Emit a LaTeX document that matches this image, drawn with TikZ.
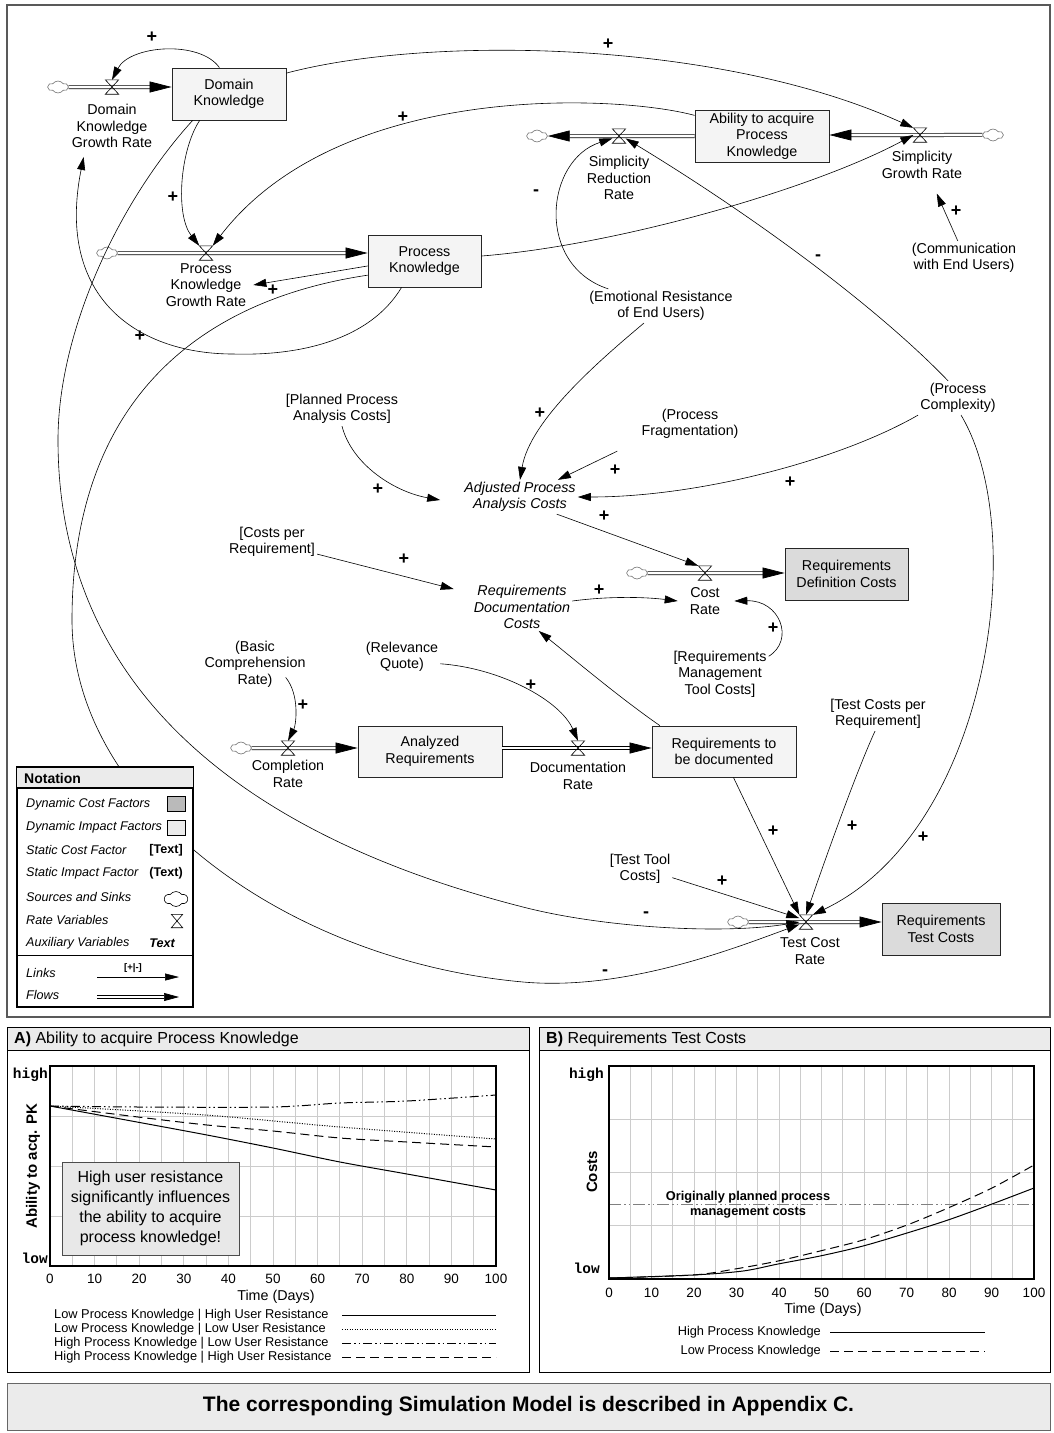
\documentclass[tikz,border=0pt]{standalone}
\usepackage{fontspec}
\setmainfont{Liberation Sans}
\setmonofont{Liberation Mono}
\usetikzlibrary{arrows.meta,shapes.symbols}
\definecolor{framec}{gray}{0.35}
\definecolor{impact}{gray}{0.955}
\definecolor{costfill}{gray}{0.86}
\definecolor{headfill}{gray}{0.92}
\definecolor{gridc}{gray}{0.8}
\tikzset{
  txt/.style={font=\fontsize{14.3}{16.5}\selectfont, align=center, inner sep=2pt},
  auxit/.style={txt, font=\fontsize{14.3}{16.5}\selectfont\itshape},
  level/.style={txt, draw=black!85, fill=impact, minimum height=52pt, line width=.8pt},
  costlevel/.style={level, fill=costfill},
  valve/.style={minimum width=13pt, minimum height=14pt, inner sep=0pt},
  cloudy/.style={cloud, cloud puffs=6, cloud puff arc=110, cloud ignores aspect, draw=black!55, fill=white, minimum width=20pt, minimum height=12pt, inner sep=0pt, line width=.6pt},
  link/.style={line width=.6pt, -{Triangle[length=13pt,width=8pt]}},
  flow/.style={draw, line width=.7pt, double=white, double distance=2.6pt, -{Triangle[length=22pt,width=11pt]}},
  pol/.style={font=\fontsize{18}{18}\bfseries\selectfont, inner sep=0pt},
  legtext/.style={anchor=west, font=\fontsize{12.6}{14}\selectfont\itshape, inner sep=0pt},
  chartleg/.style={font=\fontsize{12.8}{14}\selectfont, inner sep=0pt},
  tick/.style={font=\fontsize{13.5}{14}\selectfont, inner sep=0pt},
  yval/.style={anchor=east, font=\fontsize{14.5}{15}\ttfamily\bfseries\selectfont, inner sep=0pt}
}
\begin{document}
\begin{tikzpicture}[x=1pt, y=-1pt]
\useasboundingbox (0,0) rectangle (1053,1433);
\draw[framec, line width=1.2pt] (7,5) rectangle (1050,1017);

\node[level, minimum width=114pt] (dk) at (229,94) {Domain\\Knowledge};
\node[level, minimum width=113pt] (pk) at (424.5,261) {Process\\Knowledge};
\node[level, minimum width=134pt] (ab) at (762,136) {Ability to acquire\\Process\\Knowledge};
\node[level, minimum width=144pt, minimum height=51pt] (ar) at (430,751.5) {Analyzed\\Requirements};
\node[level, minimum width=144pt, minimum height=51pt] (rd) at (724,751.5) {Requirements to\\be documented};
\node[costlevel, minimum width=123pt] (rdc) at (846.5,574) {Requirements\\Definition Costs};
\node[costlevel, minimum width=118pt] (rtc) at (941,929) {Requirements\\Test Costs};

\node[valve] (vdk) at (112,87) {};
\node[valve] (vpk) at (206,253) {};
\node[valve] (vsr) at (619,136) {};
\node[valve] (vsg) at (920,135) {};
\node[valve] (vcr) at (705,573) {};
\node[valve] (vcm) at (288,748) {};
\node[valve] (vdo) at (578,748) {};
\node[valve] (vtc) at (806,922) {};

\node[cloudy] (cdk) at (58,87) {};
\node[cloudy] (cpk) at (107,253) {};
\node[cloudy] (csr) at (537,136) {};
\node[cloudy] (csg) at (993,135) {};
\node[cloudy] (ccr) at (637,573) {};
\node[cloudy] (ccm) at (241,748) {};
\node[cloudy] (ctc) at (738,922) {};

\draw[flow] (cdk) -- (vdk.center) -- (vdk -| dk.west);
\draw[flow] (cpk) -- (vpk.center) -- (vpk -| pk.west);
\draw[flow] (vsr -| ab.west) -- (vsr.center) -- (csr);
\draw[flow] (csg) -- (vsg.center) -- (vsg -| ab.east);
\draw[flow] (ccr) -- (vcr.center) -- (vcr -| rdc.west);
\draw[flow] (ccm) -- (vcm.center) -- (vcm -| ar.west);
\draw[flow] (vdo -| ar.east) -- (vdo.center) -- (vdo -| rd.west);
\draw[flow] (ctc) -- (vtc.center) -- (vtc -| rtc.west);

\node[txt] (dkgr) at (112,126) {Domain\\Knowledge\\Growth Rate};
\node[txt] (pkgr) at (206,285) {Process\\Knowledge\\Growth Rate};
\node[txt] (srr) at (619,178) {Simplicity\\Reduction\\Rate};
\node[txt] (sgr) at (922,165) {Simplicity\\Growth Rate};
\node[txt] (crl) at (705,601) {Cost\\Rate};
\node[txt] (cml) at (288,774) {Completion\\Rate};
\node[txt] (dol) at (578,776) {Documentation\\Rate};
\node[txt] (tcl) at (810,951) {Test Cost\\Rate};

\node[txt] (plan) at (342,409) {[Planned Process\\Analysis Costs]};
\node[auxit] (apac) at (520,497) {Adjusted Process\\Analysis Costs};
\node[txt] (frag) at (690,424) {(Process\\Fragmentation)};
\node[txt] (emo) at (661,306) {(Emotional Resistance\\of End Users)};
\node[txt] (com) at (964,258) {(Communication\\with End Users)};
\node[txt] (cplx) at (958,398) {(Process\\Complexity)};
\node[txt] (cpr) at (272,542) {[Costs per\\Requirement]};
\node[auxit] (rdoc) at (522,607) {Requirements\\Documentation\\Costs};
\node[txt] (rmtc) at (720,674) {[Requirements\\Management\\Tool Costs]};
\node[txt] (basic) at (255,664) {(Basic\\Comprehension\\Rate)};
\node[txt] (relq) at (402,657) {(Relevance\\Quote)};
\node[txt] (tcpr) at (878,714) {[Test Costs per\\Requirement]};
\node[txt] (ttc) at (640,869) {[Test Tool\\Costs]};

\foreach \v in {vdk,vpk,vsr,vsg,vcr,vcm,vdo,vtc}
  \draw[line width=.6pt] (\v.north west) -- (\v.south east) -- (\v.south west) -- (\v.north east) -- cycle;

\draw[link] (dk.110) .. controls (200,40) and (130,45) .. (vdk.north);
\draw[link] (dk.20) .. controls (430,35) and (720,40) .. (vsg.north west);
\draw[link] (dk.222) .. controls (180,150) and (175,215) .. (vpk.north west);
\draw[link] (dk.216) .. controls (120,200) and (58,330) .. (58,440)
  .. controls (58,700) and (260,840) .. (523,907)
  .. controls (600,927) and (720,935) .. (vtc.west);
\draw[link] (pk.185) -- ([xshift=5pt]pkgr.east);
\draw[link] (pk.229) .. controls (370,340) and (300,356) .. (233,354)
  .. controls (140,354) and (55,300) .. ([shift={(14,7)}]dkgr.south west);
\draw[link] (pk.5) .. controls (620,245) and (815,188) .. (vsg.west);
\draw[link] (pk.194) .. controls (200,300) and (72,400) .. (72,620)
  .. controls (72,800) and (280,960) .. (523,982)
  .. controls (623,991) and (730,950) .. (vtc.200);
\draw[link] (ab.163) .. controls (620,95) and (340,80) .. (vpk.north east);
\draw[link, shorten >=14pt] (com.110) -- (sgr.-60);
\draw[link] (emo.162) .. controls (535,265) and (545,160) .. (vsr.200);
\draw[link] (cplx.120) .. controls (880,310) and (760,220) .. (vsr.-20);
\draw[link] (emo.225) .. controls (600,360) and (530,420) .. (apac.north);
\draw[link] (plan.south) .. controls (352,465) and (395,492) .. ([shift={(-22,3)}]apac.west);
\draw[link] ([shift={(-22,10)}]frag.south west) -- ([xshift=-20pt]apac.north east);
\draw[link] (cplx.south west) .. controls (840,460) and (700,497) .. (apac.east);
\draw[link] (apac.-25) -- (vcr.north west);
\draw[link] (cpr.-15) -- ([shift={(-18,6)}]rdoc.north west);
\draw[link] ([yshift=6pt]rdoc.east) .. controls (610,596) and (645,597) .. ([xshift=-10pt]crl.west);
\draw[link] (rmtc.20) .. controls (795,640) and (780,600) .. ([xshift=12pt]crl.east);
\draw[link] (rd.158) .. controls (620,698) and (575,660) .. (rdoc.-55);
\draw[link] ([shift={(-22,-12)}]basic.south east) .. controls (300,695) and (296,725) .. (vcm.north);
\draw[link] (relq.-10) .. controls (500,668) and (560,700) .. (vdo.north);
\draw[link] (rd.-70) -- (vtc.north west);
\draw[link] (tcpr.-100) .. controls (855,775) and (825,860) .. (vtc.north);
\draw[link] (cplx.-80) .. controls (1030,530) and (990,830) .. (vtc.north east);
\draw[link] (ttc.-15) -- (vtc.150);

\foreach \x/\y/\s [count=\i] in {152/37/+, 608/44/+, 403/117/+, 173/197/+, 273/290/+, 140/336/+,
    536/193/-, 818/258/-, 956/211/+, 540/413/+, 378/489/+, 615/470/+, 790/482/+, 604/516/+,
    404/559/+, 599/590/+, 773/628/+, 303/705/+, 531/685/+, 773/831/+, 852/826/+, 923/837/+,
    722/881/+, 646/915/-, 605/973/-}
  \node[pol] (sign\i) at (\x,\y) {\s};

\draw[line width=1.2pt, fill=white] (17,767) rectangle (193,1007);
\fill[headfill] (17,767) rectangle (193,788);
\draw[line width=1.5pt] (17,767) -- (193,767) (17,788) -- (193,788);
\draw (17,955) -- (193,955);
\node[anchor=west, font=\fontsize{14}{14}\bfseries\selectfont, inner sep=0pt] (nhead) at (24,778) {Notation};
\foreach \t/\y [count=\i] in {Dynamic Cost Factors/804, Dynamic Impact Factors/827, Static Cost Factor/850,
    Static Impact Factor/873, Sources and Sinks/897, Rate Variables/920, Auxiliary Variables/943,
    Links/973, Flows/995}
  \node[legtext] (leg\i) at (26,\y) {\t};
\node[draw, fill=black!27, minimum width=18pt, minimum height=15pt, inner sep=0pt] (kcost) at (176,804) {};
\node[draw, fill=black!8, minimum width=18pt, minimum height=15pt, inner sep=0pt] (kimp) at (176,827.5) {};
\node[anchor=east, font=\fontsize{12.6}{14}\bfseries\selectfont, inner sep=0pt] (kscf) at (183,850) {[Text]};
\node[anchor=east, font=\fontsize{12.6}{14}\bfseries\selectfont, inner sep=0pt] (ksif) at (183,873) {(Text)};
\node[cloudy, draw=black, minimum width=23pt, minimum height=15pt] (kcloud) at (176,899) {};
\node[valve, minimum width=11pt, minimum height=13pt] (kvalve) at (177,921) {};
\draw[line width=.6pt] (kvalve.north west) -- (kvalve.south east) -- (kvalve.south west) -- (kvalve.north east) -- cycle;
\node[font=\fontsize{12.6}{14}\bfseries\itshape\selectfont, inner sep=0pt] (kaux) at (162,943) {Text};
\coordinate (klinka) at (97,977);
\coordinate (klinkb) at (179,977);
\draw[line width=.6pt, -{Triangle[length=14pt,width=7pt]}] (klinka) -- (klinkb);
\node[font=\fontsize{9.5}{10}\bfseries\selectfont, inner sep=0pt] (ksign) at (133,968) {[+|-]};
\coordinate (kflowa) at (97,997);
\coordinate (kflowb) at (179,997);
\draw[flow, double distance=2pt, -{Triangle[length=15pt,width=8pt]}] (kflowa) -- (kflowb);

\draw[line width=1pt] (7,1027) rectangle (529,1372);
\draw[fill=headfill] (7,1027) rectangle (529,1050);
\node[anchor=west, font=\fontsize{16}{16}\selectfont, inner sep=0pt] (atitle) at (14,1039) {\textbf{A)} Ability to acquire Process Knowledge};
\foreach \i in {1,...,19}
  \draw[gridc, line width=1pt] ({50+22.3*\i},1066) -- ++(0,200);
\foreach \j in {1,2,3}
  \draw[gridc, line width=1pt] (50,{1066+50*\j}) -- ++(446,0);
\draw[line width=1pt] plot[smooth] coordinates {(50,1106) (137,1122) (207,1135) (273,1148) (340,1162) (407,1174) (496,1190)};
\draw[line width=1pt, dash pattern=on 1pt off 1.5pt] plot[smooth] coordinates {(50,1106) (205,1115) (340,1127) (496,1139)};
\draw[line width=1pt, dash pattern=on 9pt off 3pt on 1.5pt off 3pt on 1.5pt off 3pt] plot[smooth] coordinates {(50,1106) (140,1107) (273,1107) (340,1103) (407,1101) (496,1095)};
\draw[line width=1pt, dash pattern=on 9pt off 5pt] plot[smooth] coordinates {(50,1106) (138,1117) (207,1125) (273,1131) (340,1138) (407,1142) (496,1147)};
\draw[line width=1.6pt] (50,1066) rectangle (496,1266);
\node[yval] (ahigh) at (48,1075) {high};
\node[yval] (alow) at (48,1258) {low};
\foreach \t in {0,10,...,100}
  \node[tick] (at\t) at ({50+4.46*\t},1279) {\t};
\node[font=\fontsize{14.3}{15}\selectfont, inner sep=0pt] (atime) at (276,1297) {Time (Days)};
\node[rotate=90, font=\fontsize{15}{15}\bfseries\selectfont, inner sep=0pt] (aylab) at (33,1166) {Ability to acq. PK};
\node[draw=black!70, fill=black!9, minimum width=177pt, minimum height=93pt, align=center,
  font=\fontsize{16}{20}\selectfont] (anote) at (150.5,1208.5) {High user resistance\\significantly influences\\the ability to acquire\\process knowledge!};
\foreach \t/\y [count=\i] in {Low Process Knowledge | High User Resistance/1315,
    Low Process Knowledge | Low User Resistance/1329,
    High Process Knowledge | Low User Resistance/1343,
    High Process Knowledge | High User Resistance/1357}
  \node[chartleg, anchor=west] (aleg\i) at (54,\y) {\t};
\draw[line width=1pt] (342,1315) -- (496,1315);
\draw[line width=1pt, dash pattern=on 1pt off 1.5pt] (342,1329) -- (496,1329);
\draw[line width=1pt, dash pattern=on 9pt off 3pt on 1.5pt off 3pt on 1.5pt off 3pt] (342,1343) -- (496,1343);
\draw[line width=1pt, dash pattern=on 9pt off 5pt] (342,1357) -- (496,1357);

\draw[line width=1pt] (539,1027) rectangle (1050,1372);
\draw[fill=headfill] (539,1027) rectangle (1050,1050);
\node[anchor=west, font=\fontsize{16}{16}\selectfont, inner sep=0pt] (btitle) at (546,1039) {\textbf{B)} Requirements Test Costs};
\foreach \i in {1,...,19}
  \draw[gridc, line width=1pt] ({609+21.25*\i},1066) -- ++(0,213);
\foreach \j in {1,2,3}
  \draw[gridc, line width=1pt] (609,{1066+53.25*\j}) -- ++(425,0);
\draw[gray, line width=1pt, dash pattern=on 12pt off 3pt on 1.5pt off 3pt on 1.5pt off 3pt] (609,1204) -- (1034,1204);
\draw[line width=1pt] plot[smooth] coordinates {(609,1278) (693,1275) (743,1271) (778,1264) (820,1256) (863,1246) (907,1233) (948,1220) (992,1204) (1034,1188)};
\draw[line width=1pt, dash pattern=on 9pt off 5pt] plot[smooth] coordinates {(609,1278) (693,1275) (735,1269) (778,1261) (820,1251) (863,1240) (907,1225) (948,1208) (992,1188) (1034,1165)};
\draw[line width=1.6pt] (609,1066) rectangle (1034,1279);
\node[align=center, font=\fontsize{12.8}{15}\bfseries\selectfont, inner sep=0pt] (bnote) at (748,1205) {Originally planned process\\management costs};
\node[yval] (bhigh) at (604,1075) {high};
\node[yval] (blow) at (600,1268) {low};
\foreach \t in {0,10,...,100}
  \node[tick] (bt\t) at ({609+4.25*\t},1293) {\t};
\node[font=\fontsize{14.3}{15}\selectfont, inner sep=0pt] (btime) at (823,1310) {Time (Days)};
\node[rotate=90, font=\fontsize{15}{15}\bfseries\selectfont, inner sep=0pt] (bylab) at (592,1172) {Costs};
\node[chartleg, anchor=east] (bleg1) at (821,1332) {High Process Knowledge};
\node[chartleg, anchor=east] (bleg2) at (821,1351) {Low Process Knowledge};
\draw[line width=1pt] (830,1332) -- (985,1332);
\draw[line width=1pt, dash pattern=on 9pt off 5pt] (830,1351) -- (985,1351);

\node[draw=black!60, fill=headfill, minimum width=1043pt, minimum height=47pt, inner sep=0pt,
  font=\fontsize{21}{21}\bfseries\selectfont] (foot) at (528.5,1406.5) {The corresponding Simulation Model is described in Appendix C.};
\end{tikzpicture}
\end{document}
